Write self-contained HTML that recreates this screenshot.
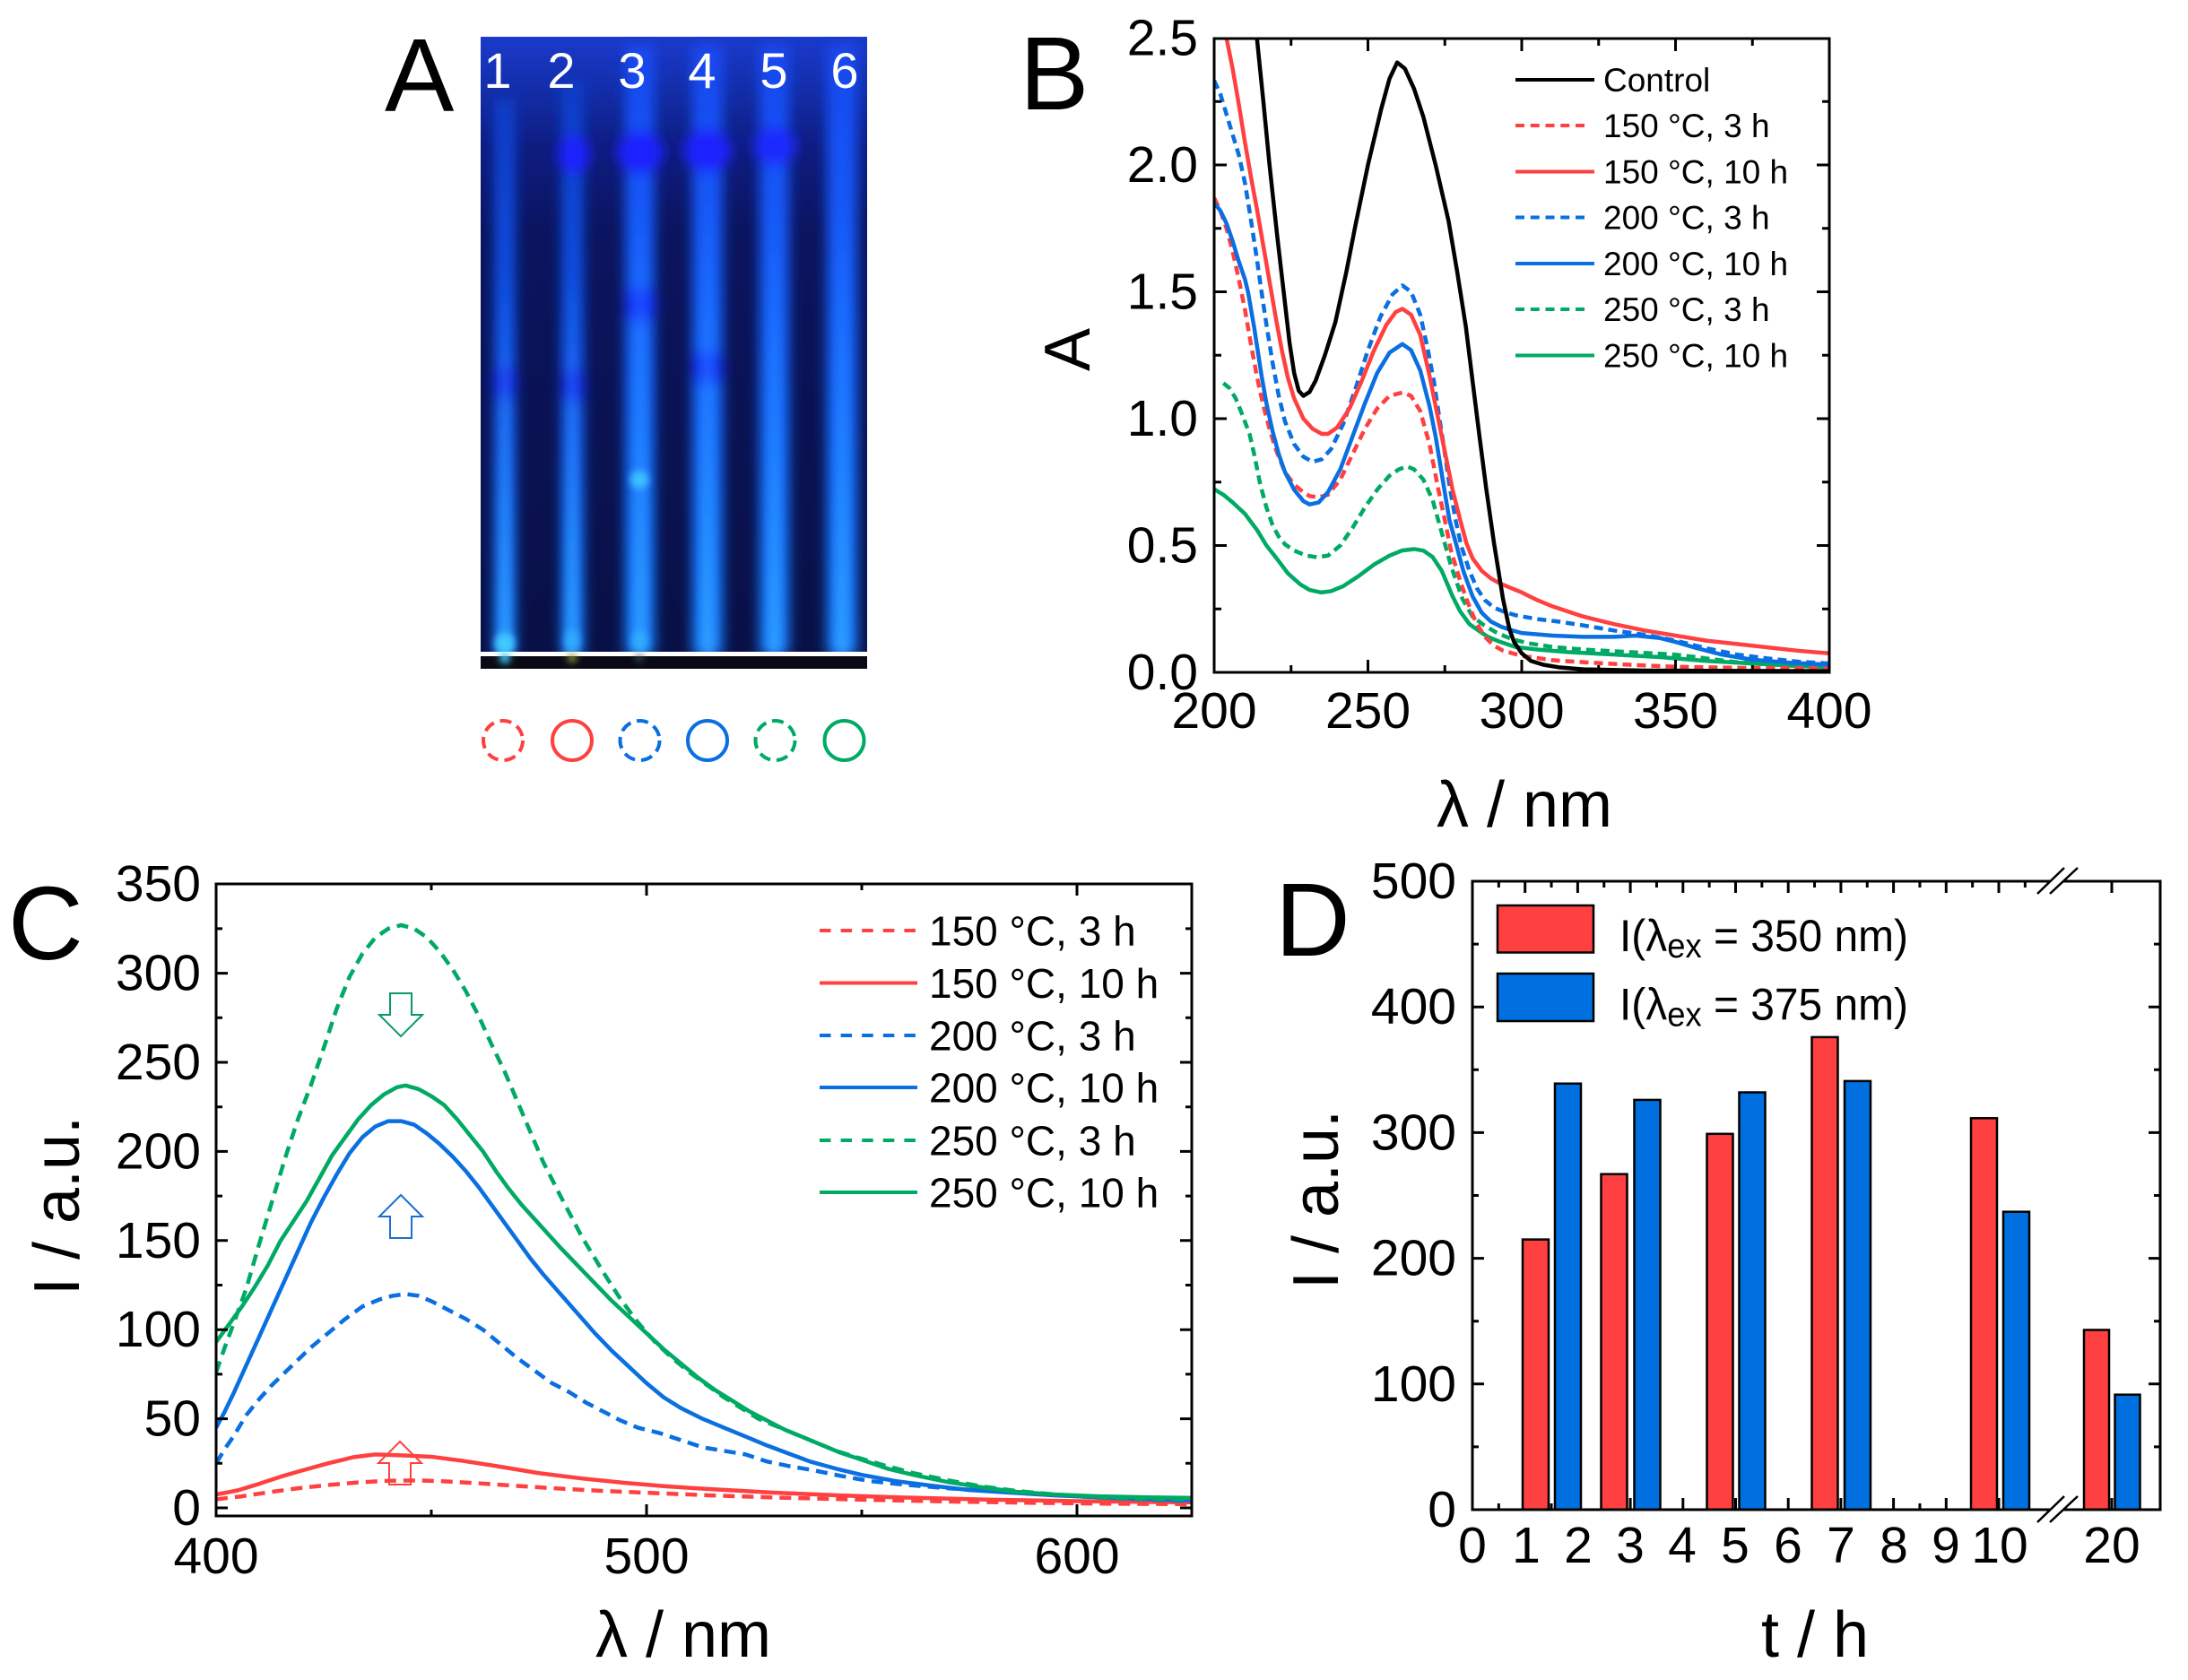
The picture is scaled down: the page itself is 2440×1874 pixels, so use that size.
<!DOCTYPE html>
<html><head><meta charset="utf-8"><style>
html,body{margin:0;padding:0;background:#fff;width:2440px;height:1874px;overflow:hidden}
svg{display:block}
.ns{vector-effect:non-scaling-stroke;fill:none;stroke-linejoin:round}
</style></head><body>
<svg width="2440" height="1874" viewBox="0 0 2440 1874" xmlns="http://www.w3.org/2000/svg" font-family="'Liberation Sans', Arial, sans-serif">
<defs>
<clipPath id="cpA"><rect x="536" y="41" width="431" height="686"/></clipPath>
<clipPath id="cpB"><rect x="1354" y="43" width="686" height="707"/></clipPath>
<clipPath id="cpC"><rect x="241" y="986" width="1088" height="705"/></clipPath>
<filter id="f7" x="-100%" y="-20%" width="300%" height="140%"><feGaussianBlur stdDeviation="7"/></filter>
<filter id="f5" x="-100%" y="-20%" width="300%" height="140%"><feGaussianBlur stdDeviation="5"/></filter>
<filter id="f4" x="-100%" y="-50%" width="300%" height="200%"><feGaussianBlur stdDeviation="4"/></filter>
<linearGradient id="gbg" x1="0" y1="0" x2="0" y2="1">
<stop offset="0" stop-color="#1a3acc"/><stop offset="0.07" stop-color="#1430b0"/><stop offset="0.18" stop-color="#0e1c80"/><stop offset="0.32" stop-color="#0b145e"/><stop offset="1" stop-color="#091046"/>
</linearGradient>
<linearGradient id="glane" x1="0" y1="0" x2="0" y2="1">
<stop offset="0" stop-color="#1a48f0"/><stop offset="0.5" stop-color="#1466ff"/><stop offset="1" stop-color="#1a80ff"/>
</linearGradient>
<linearGradient id="glane2" x1="0" y1="0" x2="0" y2="1">
<stop offset="0" stop-color="#0e3cc8"/><stop offset="0.5" stop-color="#1258f0"/><stop offset="1" stop-color="#1a80ff"/>
</linearGradient>
<linearGradient id="gcore" x1="0" y1="0" x2="0" y2="1">
<stop offset="0" stop-color="#2a90ff" stop-opacity="0"/><stop offset="0.45" stop-color="#2a90ff" stop-opacity="0.45"/><stop offset="1" stop-color="#30a0ff" stop-opacity="0.95"/>
</linearGradient>
</defs>
<rect width="2440" height="1874" fill="#fff"/>

<!-- ============ PANEL A ============ -->
<text x="429" y="124" font-size="116">A</text>
<g clip-path="url(#cpA)">
<rect x="536" y="41" width="431" height="689" fill="url(#gbg)"/>
<g filter="url(#f7)">
<rect x="551" y="110" width="24" height="620" fill="url(#glane2)"/>
<rect x="626" y="90" width="25" height="640" fill="url(#glane2)"/>
<rect x="697" y="50" width="33" height="680" fill="url(#glane)"/>
<rect x="772" y="50" width="34" height="680" fill="url(#glane)"/>
<rect x="847" y="50" width="33" height="680" fill="url(#glane)"/>
<rect x="922" y="50" width="34" height="680" fill="url(#glane)"/>
<ellipse cx="640" cy="172" rx="18" ry="22" fill="#1a22ff"/>
<ellipse cx="714" cy="170" rx="26" ry="24" fill="#1a22ff"/>
<ellipse cx="789" cy="168" rx="27" ry="24" fill="#1a22ff"/>
<ellipse cx="864" cy="163" rx="24" ry="22" fill="#1a2aff"/>
<ellipse cx="563" cy="427" rx="14" ry="20" fill="#1830f0"/>
<ellipse cx="639" cy="430" rx="14" ry="20" fill="#1830f0"/>
<ellipse cx="714" cy="340" rx="18" ry="20" fill="#1838ff"/>
<ellipse cx="789" cy="410" rx="18" ry="20" fill="#1838ff"/>
</g>
<g filter="url(#f5)">
<rect x="557" y="300" width="12" height="430" fill="url(#gcore)"/>
<rect x="632" y="300" width="12" height="430" fill="url(#gcore)"/>
<rect x="707" y="220" width="14" height="510" fill="url(#gcore)"/>
<rect x="782" y="220" width="14" height="510" fill="url(#gcore)"/>
<rect x="857" y="240" width="13" height="490" fill="url(#gcore)"/>
<rect x="932" y="240" width="14" height="490" fill="url(#gcore)"/>
</g>
<g filter="url(#f4)">
<circle cx="713" cy="535" r="10" fill="#3cc0ff"/>
<ellipse cx="563" cy="718" rx="11" ry="12" fill="#40c8ff"/>
<ellipse cx="638" cy="715" rx="8" ry="12" fill="#30b0ff" opacity="0.8"/>
<ellipse cx="713" cy="715" rx="8" ry="12" fill="#30b0ff" opacity="0.8"/>
</g>
</g>
<rect x="536" y="727" width="431" height="19" fill="#0a0a14"/>
<rect x="536" y="727" width="431" height="5" fill="#fff"/>
<g filter="url(#f4)">
<circle cx="563" cy="734" r="6" fill="#40d0ff"/>
<circle cx="638" cy="734" r="5" fill="#9a9a40"/>
<circle cx="713" cy="734" r="4" fill="#406060"/>
</g>
<g fill="#fff" font-size="56" text-anchor="middle">
<text x="555" y="98">1</text><text x="626" y="98">2</text><text x="705" y="98">3</text>
<text x="783" y="98">4</text><text x="863" y="98">5</text><text x="942" y="98">6</text>
</g>
<g fill="none" stroke-width="4">
<circle cx="561" cy="826" r="22" stroke="#ff4040" stroke-dasharray="13 7"/>
<circle cx="638" cy="826" r="22" stroke="#ff4040"/>
<circle cx="713.5" cy="826" r="22" stroke="#0a6fe0" stroke-dasharray="13 7"/>
<circle cx="789" cy="826" r="22" stroke="#0a6fe0"/>
<circle cx="864.5" cy="826" r="22" stroke="#00aa64" stroke-dasharray="13 7"/>
<circle cx="941.5" cy="826" r="22" stroke="#00aa64"/>
</g>

<!-- ============ PANEL B ============ -->
<text x="1137" y="122" font-size="116">B</text>
<g clip-path="url(#cpB)">
<g transform="matrix(3.43 0 0 -283 668 750)" stroke-width="4.5">
<polyline class="ns" vector-effect="non-scaling-stroke" stroke="#00aa64" points="200,0.722 203,0.70 206,0.67 210,0.625 214,0.56 217,0.5 220,0.454 224,0.39 228,0.347 231,0.325 234.7,0.315 238,0.32 242,0.34 247,0.38 252,0.425 257,0.46 261,0.48 265,0.486 268,0.48 271,0.455 274,0.4 277.5,0.3 280,0.24 283,0.19 285.9,0.165 289,0.14 293,0.12 298,0.1 305,0.09 315,0.08 330,0.07 345,0.06 360,0.045 375,0.035 390,0.025 400,0.02"/>
<polyline class="ns" vector-effect="non-scaling-stroke" stroke="#00aa64" stroke-dasharray="10 6" points="203,1.14 205,1.12 207,1.08 209,1.02 211.5,0.94 213,0.86 215,0.74 217,0.65 219,0.58 221,0.535 223,0.505 226,0.48 230,0.46 233.5,0.454 237,0.46 241,0.5 245,0.57 249,0.65 253,0.72 257,0.775 260,0.8 262.7,0.812 265,0.8 268,0.76 271,0.68 274.7,0.52 277,0.42 280.7,0.29 284,0.22 287.7,0.186 292,0.155 297,0.13 302,0.115 310,0.1 320,0.09 335,0.08 350,0.07 360,0.055 370,0.04 385,0.028 400,0.02"/>
<polyline class="ns" vector-effect="non-scaling-stroke" stroke="#ff4040" stroke-dasharray="10 6" points="200,1.87 202,1.82 204,1.75 206,1.66 208,1.55 210,1.43 212,1.29 214,1.16 216,1.05 218,0.96 220,0.88 223,0.79 226,0.74 229,0.71 231,0.695 233.8,0.69 237,0.70 241,0.76 245,0.86 249,0.96 253,1.04 257,1.09 261.2,1.103 264,1.09 267,1.03 270,0.9 272.9,0.72 275,0.6 277,0.48 280,0.36 282,0.29 285,0.2 288,0.14 291,0.105 294,0.085 300,0.065 310,0.048 320,0.04 335,0.03 350,0.022 370,0.018 400,0.015"/>
<polyline class="ns" vector-effect="non-scaling-stroke" stroke="#0a6fe0" points="200,1.85 202,1.82 204,1.77 206,1.70 208,1.62 210,1.55 211,1.5 213,1.36 215.4,1.17 217,1.06 219,0.95 221,0.86 223,0.79 226,0.72 229,0.675 231,0.662 234,0.67 237,0.71 241,0.8 245,0.93 249,1.06 253,1.18 257,1.26 261.2,1.294 264,1.27 267,1.19 270,1.05 272,0.93 274.7,0.73 276.5,0.6 278.8,0.5 281,0.4 284,0.3 287,0.235 290,0.2 293.3,0.18 297,0.165 300,0.155 310,0.145 320,0.14 330,0.14 337,0.145 345,0.135 350,0.12 357,0.095 365,0.07 375,0.05 387,0.038 400,0.03"/>
<polyline class="ns" vector-effect="non-scaling-stroke" stroke="#0a6fe0" stroke-dasharray="10 6" points="200,2.333 202,2.28 204,2.2 206,2.12 208,2.04 210,1.93 212,1.78 214,1.62 215.4,1.5 217,1.37 219,1.22 221,1.09 223,0.99 226,0.9 229,0.85 232,0.83 235,0.84 238,0.88 242,0.98 246,1.12 250,1.27 254,1.4 258,1.49 261.2,1.525 264,1.5 267,1.41 269.5,1.27 271.4,1.15 273,1.02 274.8,0.88 276.6,0.73 278.5,0.6 280.3,0.5 283,0.4 285.5,0.33 288,0.285 291,0.255 294,0.24 298,0.225 305,0.21 312,0.2 320,0.185 330,0.165 340,0.148 350,0.125 360,0.095 370,0.07 380,0.055 390,0.042 400,0.035"/>
<polyline class="ns" vector-effect="non-scaling-stroke" stroke="#ff4040" points="202.5,2.62 204,2.5 206,2.38 208,2.24 210,2.09 212,1.95 214,1.82 216,1.68 218.3,1.52 220,1.40 222,1.27 224,1.16 226,1.08 229,1.0 232,0.96 235,0.94 237,0.94 240,0.965 244,1.04 248,1.15 252,1.27 256,1.37 259,1.42 261.2,1.433 264,1.41 267,1.33 270,1.17 273,0.99 275.5,0.84 277.5,0.72 280,0.6 282,0.51 284,0.45 287,0.40 290,0.37 293,0.35 296,0.335 300,0.315 305,0.285 310,0.26 320,0.22 330,0.19 340,0.165 350,0.145 360,0.125 375,0.105 390,0.085 400,0.075"/>
<polyline class="ns" vector-effect="non-scaling-stroke" stroke="#000" points="212.5,2.7 213.9,2.5 216,2.25 218,2.0 220.5,1.72 222.6,1.5 224.5,1.3 226,1.18 227.5,1.11 229,1.09 231,1.105 233,1.15 236,1.25 239.4,1.38 243,1.58 245.9,1.76 250,2.0 254.3,2.22 257,2.34 259.5,2.404 262,2.38 265,2.3 268,2.19 272,2.0 276.2,1.78 279,1.58 281.8,1.365 284,1.15 286.2,0.936 288.5,0.72 291,0.508 293.9,0.29 296,0.17 297.5,0.12 300,0.075 303,0.045 307,0.03 312,0.02 320,0.012 340,0.007 400,0.005"/>
</g>
</g>
<rect x="1354" y="43" width="686" height="707" fill="none" stroke="#000" stroke-width="3"/>
<path stroke="#000" stroke-width="3" fill="none" d="M1439.75 750v-8M1525.5 750v-14M1611.25 750v-8M1697 750v-14M1782.75 750v-8M1868.5 750v-14M1954.25 750v-8
M1439.75 43v8M1525.5 43v14M1611.25 43v8M1697 43v14M1782.75 43v8M1868.5 43v14M1954.25 43v8
M1354 679.25h8M1354 608.5h14M1354 537.75h8M1354 467h14M1354 396.25h8M1354 325.5h14M1354 254.75h8M1354 184h14M1354 113.25h8
M2040 679.25h-8M2040 608.5h-14M2040 537.75h-8M2040 467h-14M2040 396.25h-8M2040 325.5h-14M2040 254.75h-8M2040 184h-14M2040 113.25h-8"/>
<g font-size="57" text-anchor="end">
<text x="1336" y="769">0.0</text><text x="1336" y="627.5">0.5</text><text x="1336" y="486">1.0</text>
<text x="1336" y="344.5">1.5</text><text x="1336" y="203">2.0</text><text x="1336" y="61.5">2.5</text>
</g>
<g font-size="57" text-anchor="middle">
<text x="1354" y="812">200</text><text x="1525.5" y="812">250</text><text x="1697" y="812">300</text>
<text x="1868.5" y="812">350</text><text x="2040" y="812">400</text>
</g>
<text x="1700" y="922" font-size="72" text-anchor="middle">λ / nm</text>
<text transform="translate(1215,390) rotate(-90)" font-size="72" text-anchor="middle">A</text>
<g stroke-width="4">
<line x1="1690" y1="89" x2="1778" y2="89" stroke="#000"/>
<line x1="1690" y1="140" x2="1767" y2="140" stroke="#ff4040" stroke-dasharray="10 6.75"/>
<line x1="1690" y1="191.5" x2="1778" y2="191.5" stroke="#ff4040"/>
<line x1="1690" y1="242.5" x2="1767" y2="242.5" stroke="#0a6fe0" stroke-dasharray="10 6.75"/>
<line x1="1690" y1="294" x2="1778" y2="294" stroke="#0a6fe0"/>
<line x1="1690" y1="345" x2="1767" y2="345" stroke="#00aa64" stroke-dasharray="10 6.75"/>
<line x1="1690" y1="396.5" x2="1778" y2="396.5" stroke="#00aa64"/>
</g>
<g font-size="37">
<text x="1788" y="102">Control</text>
<text x="1788" y="153">150 °C, 3 h</text>
<text x="1788" y="204.5">150 °C, 10 h</text>
<text x="1788" y="255.5">200 °C, 3 h</text>
<text x="1788" y="307">200 °C, 10 h</text>
<text x="1788" y="358">250 °C, 3 h</text>
<text x="1788" y="409.5">250 °C, 10 h</text>
</g>

<!-- ============ PANEL C ============ -->
<text x="9" y="1070" font-size="116">C</text>
<g clip-path="url(#cpC)">
<g transform="matrix(4.8 0 0 -1.988 -1679 1682)" stroke-width="4.5">
<polyline class="ns" vector-effect="non-scaling-stroke" stroke="#ff4040" stroke-dasharray="13 8" points="400,4.8 406,6.5 412,8.7 419,11 426,12.8 433,14.3 440,15.2 447,15.4 454,14.8 461,13.8 470,12.3 480,10.8 490,9.5 500,8.5 515,7 530,5.8 550,4.6 570,3.6 590,2.8 610,2.3 630,2"/>
<polyline class="ns" vector-effect="non-scaling-stroke" stroke="#ff4040" points="400,7.5 405,9.8 410,13.5 415,17.5 420,21 426,25 432,28.5 437,30 443,29.5 450,28.7 457,26.5 465,23.5 475,19.5 485,16.5 495,14 505,12 515,10.5 530,8.5 545,7 560,5.8 580,4.6 600,3.8 630,3"/>
<polyline class="ns" vector-effect="non-scaling-stroke" stroke="#0a6fe0" stroke-dasharray="13 8" points="400,25 402,33 404,40 407,52 410,61 413,69 416,76 419,83 422,90 426,98 430,106 434,113 438,117 441,119 444,120 447,119 450,116 454,111 458,106 462,100 466,92 470,84 474,77 478,70 482,65 486,59 490,54 494,49 498,45 503,42 508,38 513,34 518,32 523,30 528,26 533,23.5 539,21 545,18 552,15 560,13 570,11 580,9.5 590,8 600,6.5 612,5 630,3.5"/>
<polyline class="ns" vector-effect="non-scaling-stroke" stroke="#0a6fe0" points="400,45 402,54 404,64 407,80 410,96 413,112 416,128 419,144 422,160 425,174 428,187 431,199 434,208 437,214 440,217 443,217 446,215 449,210 452,204 455,197 458,189 461,180 464,170 467,160 470,150 473,140 476,131 480,120 484,109 488,98 492,88 496,79 500,70 504,62 508,56 513,50 518,45 523,40 528,35 533,30.5 538,26 544,22 550,18.5 558,15 566,12.5 575,10 585,8.5 595,7 605,6 615,5 630,4"/>
<polyline class="ns" vector-effect="non-scaling-stroke" stroke="#00aa64" stroke-dasharray="13 8" points="400,76 402,90 404,103 407,123 410,148 413,172 416,196 419,218 422,237 425,258 428,280 431,298 434,311 437,320 440,325 443,327 446,325 449,320 452,312 455,302 458,290 461,276 464,260 467,245 470,228 473,211 476,194 480,175 485,152 490,132 494,117 498,104 502,93 506,84 510,76 514,69 518,62 522,56 526,50 530,46 535,41 539,37 544,32 548,29 555,24 562,19.5 570,15.5 578,12 586,9.5 595,7.5 605,6 615,5 630,4.5"/>
<polyline class="ns" vector-effect="non-scaling-stroke" stroke="#00aa64" points="400,93 403,103 406,113 409,124 412,136 415,150 418,161 421,172 424,185 427,198 430,208 433,218 436,226 439,232 442,236 444,237 447,235 450,231 453,226 456,218 459,209 462,200 465,189 468,179 471,170 474,162 477,154 480,146 484,136 488,126 492,116 496,107 500,98 504,89 508,81 512,73 516,66 520,60 524,54 528,49 532,44 536,40 540,36 545,31 550,27 556,22 562,18.5 570,14.5 578,11.5 586,9 595,7.5 605,6.5 615,6 630,5.5"/>
</g>
</g>
<g fill="none" stroke-width="2">
<polygon points="435,1108 459,1108 459,1132 471,1132 447,1156 423,1132 435,1132" stroke="#0a9a6a"/>
<polygon points="447,1333 471,1357 459,1357 459,1381 435,1381 435,1357 423,1357" stroke="#1a70d0"/>
<polygon points="446,1608 470,1632 458,1632 458,1656 434,1656 434,1632 422,1632" stroke="#ff4040"/>
</g>
<rect x="241" y="986" width="1088" height="705" fill="none" stroke="#000" stroke-width="3"/>
<path stroke="#000" stroke-width="3" fill="none" d="M481 1691v-7M721 1691v-13M961 1691v-7M1201 1691v-13
M481 986v7M721 986v13M961 986v7M1201 986v13
M241 1682h13M241 1632.3h7M241 1582.6h13M241 1532.9h7M241 1483.2h13M241 1433.5h7M241 1383.8h13M241 1334.1h7M241 1284.4h13M241 1234.7h7M241 1185h13M241 1135.3h7M241 1085.6h13M241 1035.9h7
M1329 1682h-13M1329 1632.3h-7M1329 1582.6h-13M1329 1532.9h-7M1329 1483.2h-13M1329 1433.5h-7M1329 1383.8h-13M1329 1334.1h-7M1329 1284.4h-13M1329 1234.7h-7M1329 1185h-13M1329 1135.3h-7M1329 1085.6h-13M1329 1035.9h-7"/>
<g font-size="57" text-anchor="end">
<text x="224" y="1701">0</text><text x="224" y="1601.6">50</text><text x="224" y="1502.2">100</text>
<text x="224" y="1402.8">150</text><text x="224" y="1303.4">200</text><text x="224" y="1204">250</text>
<text x="224" y="1104.6">300</text><text x="224" y="1005.2">350</text>
</g>
<g font-size="57" text-anchor="middle">
<text x="241" y="1755">400</text><text x="721" y="1755">500</text><text x="1201" y="1755">600</text>
</g>
<text x="762" y="1848" font-size="72" text-anchor="middle">λ / nm</text>
<text transform="translate(88,1345) rotate(-90)" font-size="72" text-anchor="middle">I / a.u.</text>
<g stroke-width="4">
<line x1="914" y1="1038" x2="1023" y2="1038" stroke="#ff4040" stroke-dasharray="12.5 11.1"/>
<line x1="914" y1="1096.5" x2="1023" y2="1096.5" stroke="#ff4040"/>
<line x1="914" y1="1155" x2="1023" y2="1155" stroke="#0a6fe0" stroke-dasharray="12.5 11.1"/>
<line x1="914" y1="1213" x2="1023" y2="1213" stroke="#0a6fe0"/>
<line x1="914" y1="1272" x2="1023" y2="1272" stroke="#00aa64" stroke-dasharray="12.5 11.1"/>
<line x1="914" y1="1330" x2="1023" y2="1330" stroke="#00aa64"/>
</g>
<g font-size="46">
<text x="1036" y="1054.5">150 °C, 3 h</text>
<text x="1036" y="1113">150 °C, 10 h</text>
<text x="1036" y="1171.5">200 °C, 3 h</text>
<text x="1036" y="1229.5">200 °C, 10 h</text>
<text x="1036" y="1288.5">250 °C, 3 h</text>
<text x="1036" y="1346.5">250 °C, 10 h</text>
</g>

<!-- ============ PANEL D ============ -->
<text x="1422" y="1066" font-size="116">D</text>
<path stroke="#000" stroke-width="3" fill="none" d="M1642 1613.9h7M1642 1543.8h13M1642 1473.7h7M1642 1403.6h13M1642 1333.5h7M1642 1263.4h13M1642 1193.3h7M1642 1123.2h13M1642 1053.1h7
M2409 1613.9h-7M2409 1543.8h-13M2409 1473.7h-7M2409 1403.6h-13M2409 1333.5h-7M2409 1263.4h-13M2409 1193.3h-7M2409 1123.2h-13M2409 1053.1h-7
M1671.35 1684v-7M1700.7 1684v-13M1730.05 1684v-7M1759.4 1684v-13M1788.75 1684v-7M1818.1 1684v-13M1847.45 1684v-7M1876.8 1684v-13M1906.15 1684v-7M1935.5 1684v-13M1964.85 1684v-7M1994.2 1684v-13M2023.55 1684v-7M2052.9 1684v-13M2082.25 1684v-7M2111.6 1684v-13M2140.95 1684v-7M2170.3 1684v-13M2199.65 1684v-7M2229 1684v-13M2258.35 1684v-7M2355 1684v-13
M1671.35 983v7M1700.7 983v13M1730.05 983v7M1759.4 983v13M1788.75 983v7M1818.1 983v13M1847.45 983v7M1876.8 983v13M1906.15 983v7M1935.5 983v13M1964.85 983v7M1994.2 983v13M2023.55 983v7M2052.9 983v13M2082.25 983v7M2111.6 983v13M2140.95 983v7M2170.3 983v13M2199.65 983v7M2229 983v13M2258.35 983v7M2355 983v13"/>
<g stroke="#000" stroke-width="2.5">
<rect x="1698" y="1382.6" width="29" height="301.4" fill="#ff4040"/>
<rect x="1734" y="1208.7" width="29" height="475.3" fill="#0070e0"/>
<rect x="1785.5" y="1309.7" width="29" height="374.3" fill="#ff4040"/>
<rect x="1822.5" y="1226.9" width="29" height="457.1" fill="#0070e0"/>
<rect x="1903.5" y="1264.8" width="29" height="419.2" fill="#ff4040"/>
<rect x="1939.5" y="1218.5" width="29" height="465.5" fill="#0070e0"/>
<rect x="2020.5" y="1156.9" width="29" height="527.1" fill="#ff4040"/>
<rect x="2057" y="1205.9" width="29" height="478.1" fill="#0070e0"/>
<rect x="2198" y="1247.3" width="29" height="436.7" fill="#ff4040"/>
<rect x="2234" y="1351.7" width="29" height="332.3" fill="#0070e0"/>
<rect x="2324" y="1483.5" width="28" height="200.5" fill="#ff4040"/>
<rect x="2358.5" y="1555.7" width="28" height="128.3" fill="#0070e0"/>
</g>
<rect x="1642" y="983" width="767" height="701" fill="none" stroke="#000" stroke-width="3"/>
<polygon points="2276,1693 2296,1675 2311,1675 2291,1693" fill="#fff"/>
<polygon points="2276,992 2296,974 2311,974 2291,992" fill="#fff"/>
<g stroke="#000" stroke-width="2.5">
<line x1="2272" y1="1698" x2="2302" y2="1669"/><line x1="2286" y1="1698" x2="2317" y2="1669"/>
<line x1="2272" y1="997" x2="2302" y2="968"/><line x1="2286" y1="997" x2="2317" y2="968"/>
</g>
<g font-size="57" text-anchor="end">
<text x="1624" y="1703">0</text><text x="1624" y="1562.8">100</text><text x="1624" y="1422.6">200</text>
<text x="1624" y="1282.4">300</text><text x="1624" y="1142.2">400</text><text x="1624" y="1002">500</text>
</g>
<g font-size="57" text-anchor="middle">
<text x="1642" y="1743">0</text><text x="1702" y="1743">1</text><text x="1760" y="1743">2</text>
<text x="1818" y="1743">3</text><text x="1876" y="1743">4</text><text x="1935" y="1743">5</text>
<text x="1994" y="1743">6</text><text x="2053" y="1743">7</text><text x="2112" y="1743">8</text>
<text x="2170" y="1743">9</text><text x="2230" y="1743">10</text><text x="2355" y="1743">20</text>
</g>
<text x="2024" y="1848" font-size="72" text-anchor="middle">t / h</text>
<text transform="translate(1492,1338) rotate(-90)" font-size="72" text-anchor="middle">I / a.u.</text>
<rect x="1670" y="1010" width="107" height="52.5" fill="#ff4040" stroke="#000" stroke-width="2.5"/>
<rect x="1670" y="1086" width="107" height="53" fill="#0070e0" stroke="#000" stroke-width="2.5"/>
<text x="1806" y="1061" font-size="50" textLength="322" lengthAdjust="spacingAndGlyphs">I(λ<tspan font-size="38" dy="7">ex</tspan><tspan dy="-7"> = 350 nm)</tspan></text>
<text x="1806" y="1137.5" font-size="50" textLength="322" lengthAdjust="spacingAndGlyphs">I(λ<tspan font-size="38" dy="7">ex</tspan><tspan dy="-7"> = 375 nm)</tspan></text>
</svg>
</body></html>
